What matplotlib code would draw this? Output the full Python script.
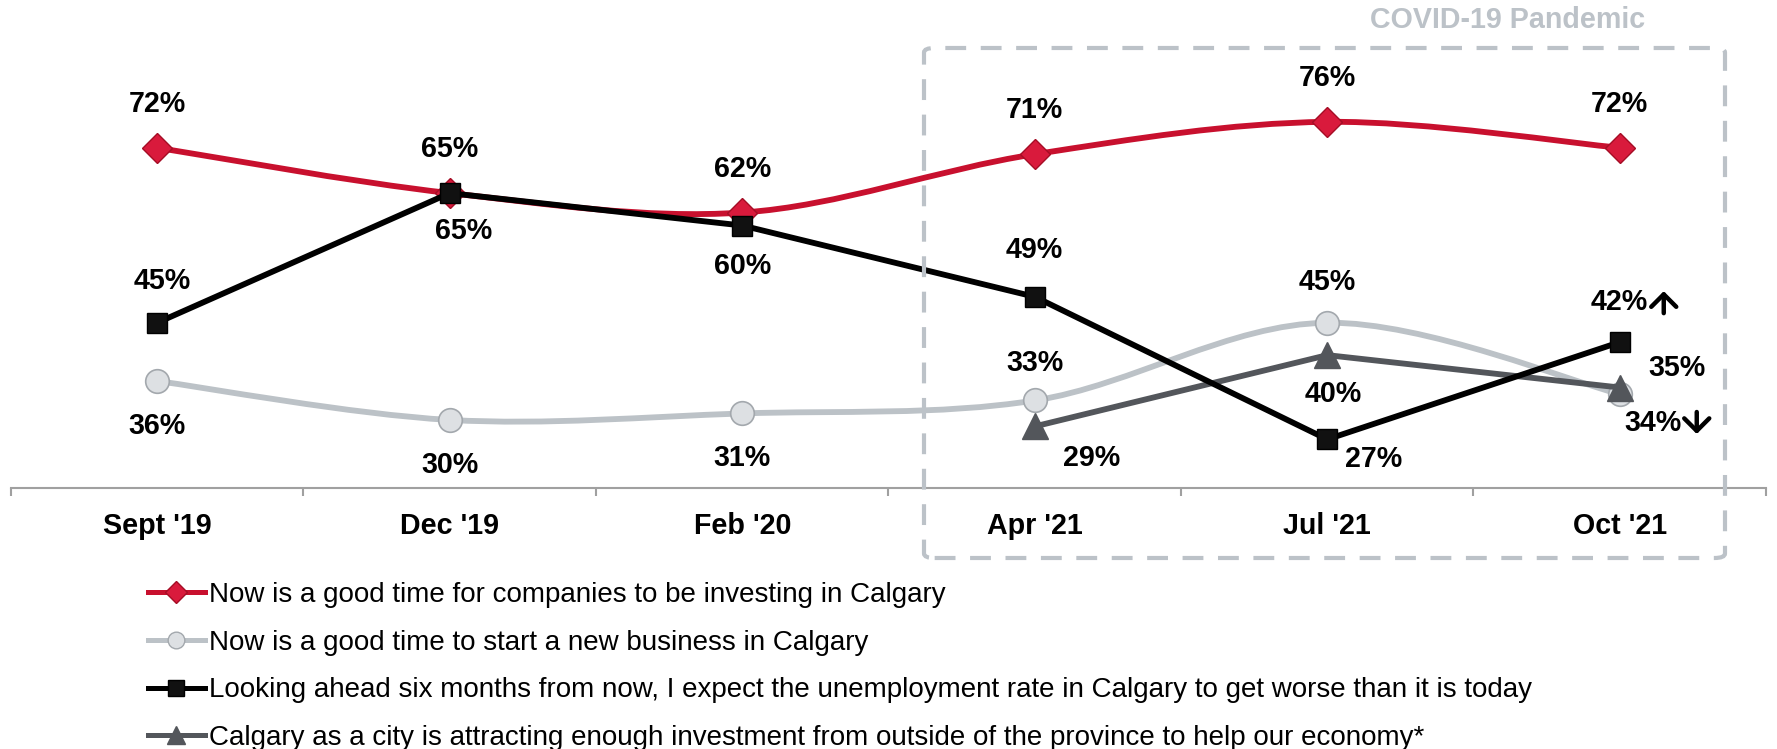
'''
Calgary business sentiment survey, Sept 2019 to Oct 2021
'''

import numpy as np
import matplotlib
matplotlib.use('Agg')
from matplotlib import pyplot as plt
from matplotlib.path import Path
from matplotlib.patches import PathPatch, FancyBboxPatch
from matplotlib.lines import Line2D
from matplotlib.transforms import offset_copy

periods = ["Sept '19", "Dec '19", "Feb '20", "Apr '21", "Jul '21", "Oct '21"]

invest_now = [72, 65, 62, 71, 76, 72]
new_business = [36, 30, 31, 33, 45, 34]
unemployment_worse = [45, 65, 60, 49, 27, 42]
attracting_investment = [np.nan, np.nan, np.nan, 29, 40, 35]

series_names = [
    'Now is a good time for companies to be investing in Calgary',
    'Now is a good time to start a new business in Calgary',
    'Looking ahead six months from now, I expect the unemployment rate in Calgary to get worse than it is today',
    'Calgary as a city is attracting enough investment from outside of the province to help our economy*',
]

# trend arrows next to the latest values: +1 up, -1 down, 0 none
trend_unemployment = [0, 0, 0, 0, 0, 1]
trend_new_business = [0, 0, 0, 0, 0, -1]

RED = '#C8102E'
LIGHT = '#BCC2C7'
BLACK = '#000000'
DARK = '#53565B'
BOX = '#BCC2C8'
LABEL_SIZE = 20.6

plt.rcParams['font.family'] = ['Liberation Sans', 'DejaVu Sans']


def smooth_path(xs, ys):
    # Excel style smoothed line: Catmull-Rom turned into cubic bezier segments
    pts = [(x, y) for x, y in zip(xs, ys) if not np.isnan(y)]
    verts = [pts[0]]
    codes = [Path.MOVETO]
    for i in range(len(pts) - 1):
        p0 = pts[i - 1] if i > 0 else pts[i]
        p1 = pts[i]
        p2 = pts[i + 1]
        p3 = pts[i + 2] if i + 2 < len(pts) else p2
        c1 = (p1[0] + (p2[0] - p0[0]) / 6, p1[1] + (p2[1] - p0[1]) / 6)
        c2 = (p2[0] - (p3[0] - p1[0]) / 6, p2[1] - (p3[1] - p1[1]) / 6)
        verts += [c1, c2, p2]
        codes += [Path.CURVE4] * 3
    return Path(verts, codes)


def label(ax, x, v, dx, dy):
    # dx, dy in pixels (down is positive), converted to points
    ax.annotate('%d%%' % v, (x, v), xytext=(dx * 0.72, -dy * 0.72),
                textcoords='offset points', ha='center', va='center',
                fontsize=LABEL_SIZE, fontweight='bold', color='black', zorder=10)


def trend_arrow(ax, fig, x, v, dx, dy, direction):
    # arrow centred dx, dy pixels from the point, 22 px tall
    tail = offset_copy(ax.transData, fig=fig, x=dx * 0.72,
                       y=(-dy - 11 * direction) * 0.72, units='points')
    head = offset_copy(ax.transData, fig=fig, x=dx * 0.72,
                       y=(-dy + 11 * direction) * 0.72, units='points')
    ax.annotate('', xy=(x, v), xycoords=head, xytext=(x, v), textcoords=tail,
                arrowprops=dict(arrowstyle='->,head_length=0.45,head_width=0.45',
                                lw=3.2, color='black', shrinkA=0, shrinkB=0,
                                mutation_scale=20), zorder=10)


def plot_sentiment():
    fig = plt.figure(figsize=(17.77, 7.49), dpi=100)
    ax = fig.add_axes([11 / 1777, 0.3485, 1755 / 1777, 0.6515])
    x = np.arange(len(periods))
    lw = 4.2

    # light gray smoothed line
    ax.add_patch(PathPatch(smooth_path(x, new_business), facecolor='none',
                           edgecolor=LIGHT, lw=lw, capstyle='round', zorder=2))
    ax.plot(x, new_business, linestyle='none', marker='o', ms=17,
            mfc='#DDE0E3', mec='#A3A8AD', mew=1.2, zorder=2.5)

    # dark gray straight line
    ax.plot(x, attracting_investment, color=DARK, lw=lw, marker='^', ms=19,
            mfc=DARK, mec=DARK, zorder=3)

    # red smoothed line
    ax.add_patch(PathPatch(smooth_path(x, invest_now), facecolor='none',
                           edgecolor=RED, lw=lw, capstyle='round', zorder=4))
    ax.plot(x, invest_now, linestyle='none', marker='D', ms=15,
            mfc='#D91A3C', mec='#A50D25', mew=1, zorder=4.5)

    # black straight line
    ax.plot(x, unemployment_worse, color=BLACK, lw=lw, marker='s', ms=14.5,
            mfc='#111111', mec='#000000', zorder=5)

    ax.set_xlim(-0.5, len(periods) - 0.5)
    ax.set_ylim(19.5, 94.8)

    # data labels
    for i, v in enumerate(invest_now):
        label(ax, i, v, 0, -44)

    black_off = [(5, -42), (14, 38), (0, 40), (0, -47), (46, 20), (0, -40)]
    for i, v in enumerate(unemployment_worse):
        dx, dy = black_off[i]
        label(ax, i, v, dx, dy)
        if trend_unemployment[i]:
            trend_arrow(ax, fig, i, v, 44, dy, trend_unemployment[i])

    light_off = [(0, 45), (0, 45), (0, 45), (0, -37), (0, -41), (33, 29)]
    for i, v in enumerate(new_business):
        dx, dy = light_off[i]
        label(ax, i, v, dx, dy)
        if trend_new_business[i]:
            trend_arrow(ax, fig, i, v, 77, dy, trend_new_business[i])

    dark_off = [None, None, None, (57, 32), (6, 39), (57, -20)]
    for i, v in enumerate(attracting_investment):
        if np.isnan(v):
            continue
        dx, dy = dark_off[i]
        label(ax, i, v, dx, dy)

    # axes styling
    for s in ['top', 'right', 'left']:
        ax.spines[s].set_visible(False)
    ax.spines['bottom'].set_color('#A0A0A0')
    ax.spines['bottom'].set_linewidth(1.5)
    ax.set_yticks([])
    ax.set_xticks(x)
    ax.set_xticklabels(periods, fontsize=LABEL_SIZE, fontweight='bold')
    ax.set_xticks(np.arange(-0.5, len(periods)), minor=True)
    ax.tick_params(axis='x', which='major', length=0, pad=17)
    ax.tick_params(axis='x', which='minor', length=6, width=1.5,
                   color='#A0A0A0', direction='out')
    ax.patch.set_visible(False)

    # COVID-19 dashed box
    box = FancyBboxPatch((924 / 1777, 1 - 558 / 749), 801 / 1777, 510 / 749,
                         boxstyle='round,pad=0,rounding_size=0.006',
                         transform=fig.transFigure, facecolor='none',
                         edgecolor=BOX, lw=3, linestyle=(0, (5, 3.5)), zorder=1)
    fig.patches.append(box)
    fig.text(1508 / 1777, 1 - 20 / 749, 'COVID-19 Pandemic', color=BOX,
             fontsize=LABEL_SIZE, fontweight='bold', ha='center', va='center')

    # legend
    handles = [
        Line2D([], [], color=RED, lw=3.6, marker='D', ms=11, mfc='#D91A3C', mec='#A50D25'),
        Line2D([], [], color=LIGHT, lw=3.6, marker='o', ms=12, mfc='#DDE0E3', mec='#A3A8AD'),
        Line2D([], [], color=BLACK, lw=3.6, marker='s', ms=11, mfc='#111111', mec='#000000'),
        Line2D([], [], color=DARK, lw=3.6, marker='^', ms=13, mfc=DARK, mec=DARK),
    ]
    fig.legend(handles, series_names, loc='upper left',
               bbox_to_anchor=(148 / 1777, 1 - 582 / 749), frameon=False,
               fontsize=20, handlelength=2.05, handletextpad=0.15,
               labelspacing=0.78, borderpad=0, borderaxespad=0)

    fig.savefig('out.png', dpi=100)


if __name__ == '__main__':
    plot_sentiment()
